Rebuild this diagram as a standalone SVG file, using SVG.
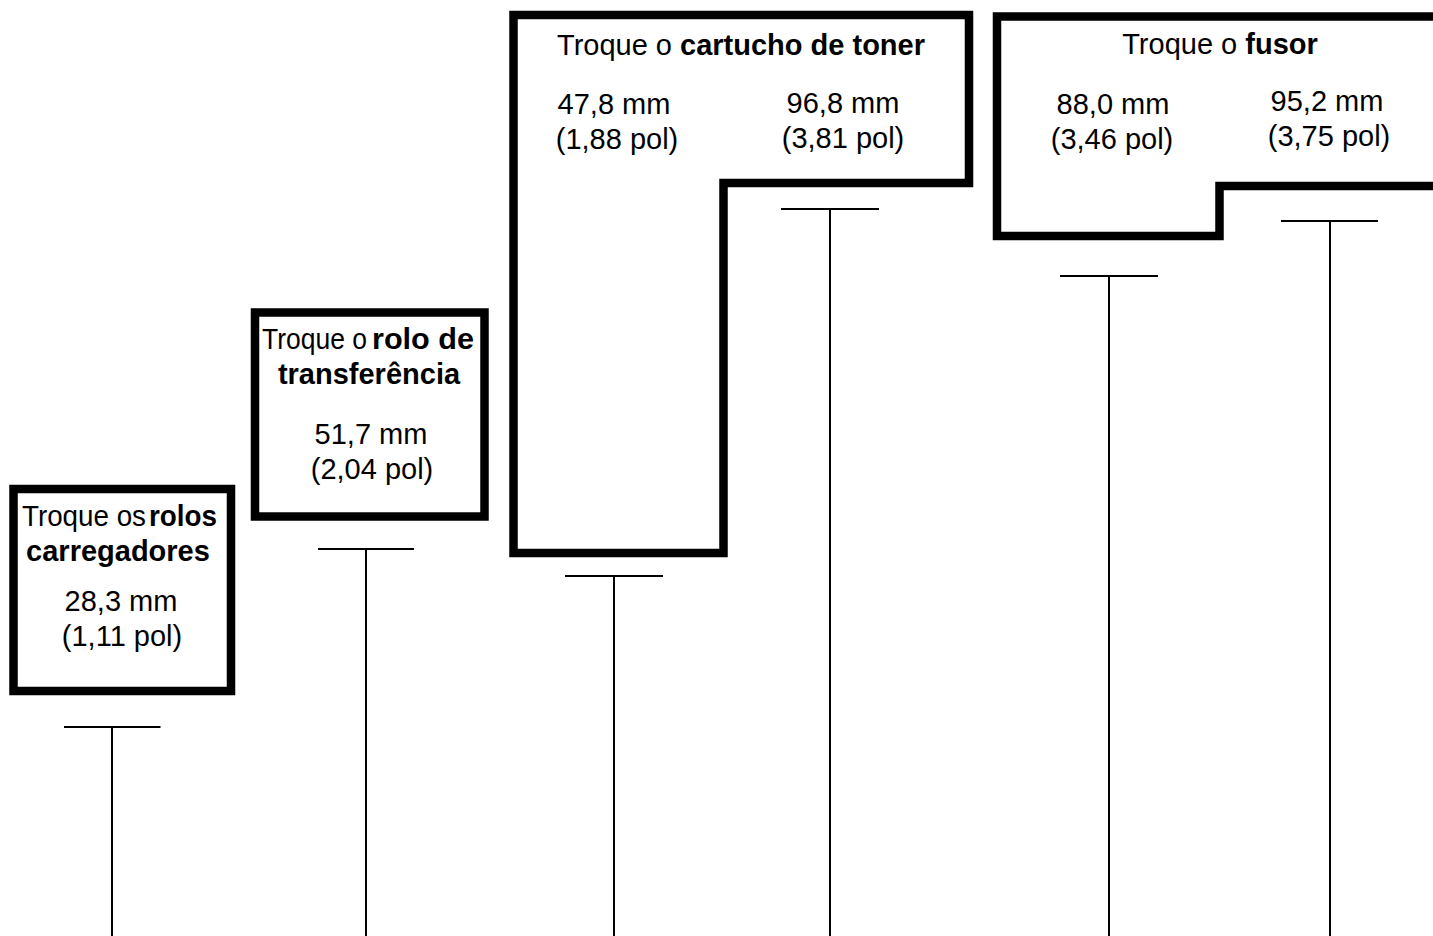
<svg xmlns="http://www.w3.org/2000/svg" width="1433" height="936" viewBox="0 0 1433 936">
<style>
.box{fill:none;stroke:#000;stroke-width:8.5;stroke-linejoin:miter}
.t{font-family:"Liberation Sans",Arial,sans-serif;font-size:29px;fill:#000;text-anchor:middle}
.s{text-anchor:start}
.e{text-anchor:end}
.b{font-weight:bold}
.ln{stroke:#000;stroke-width:2;fill:none}
</style>
<rect width="1433" height="936" fill="#fff"/>
<g id="node-rolos-carregadores">
<rect class="box" x="13.5" y="489" width="217.5" height="202"/>
<text class="t s" x="22" y="526" textLength="124" lengthAdjust="spacingAndGlyphs">Troque os</text>
<text class="t b e" x="217" y="526" textLength="68" lengthAdjust="spacingAndGlyphs">rolos</text>
<text class="t b" x="118" y="561">carregadores</text>
<text class="t" x="121" y="611">28,3 mm</text>
<text class="t" x="122" y="646">(1,11 pol)</text>
</g>
<g id="node-rolo-transferencia">
<rect class="box" x="255" y="312.5" width="229.5" height="204"/>
<text class="t s" x="262" y="349" textLength="105" lengthAdjust="spacingAndGlyphs">Troque o</text>
<text class="t b e" x="474" y="349" textLength="102" lengthAdjust="spacingAndGlyphs">rolo de</text>
<text class="t b" x="369" y="384">transferência</text>
<text class="t" x="371" y="444">51,7 mm</text>
<text class="t" x="372" y="479">(2,04 pol)</text>
</g>
<g id="node-cartucho-toner">
<path class="box" d="M513.5 15 H969 V183 H723.5 V553 H513.5 Z"/>
<text class="t" x="741" y="55">Troque o <tspan class="b">cartucho de toner</tspan></text>
<text class="t" x="614" y="114">47,8 mm</text>
<text class="t" x="617" y="149">(1,88 pol)</text>
<text class="t" x="843" y="113">96,8 mm</text>
<text class="t" x="843" y="148">(3,81 pol)</text>
</g>
<g id="node-fusor">
<path class="box" d="M1445 16.5 H997 V236 H1219.5 V186 H1445"/>
<text class="t" x="1220" y="54">Troque o <tspan class="b">fusor</tspan></text>
<text class="t" x="1113" y="114">88,0 mm</text>
<text class="t" x="1112" y="149">(3,46 pol)</text>
<text class="t" x="1327" y="111">95,2 mm</text>
<text class="t" x="1329" y="146">(3,75 pol)</text>
</g>
<g id="connectors">
<path class="ln" d="M64 727 H160.5 M112 727 V936"/>
<path class="ln" d="M318 549 H414 M366 549 V936"/>
<path class="ln" d="M565 576 H663 M614 576 V936"/>
<path class="ln" d="M781 209 H879 M830 209 V936"/>
<path class="ln" d="M1060 276 H1158 M1109 276 V936"/>
<path class="ln" d="M1281 221 H1378 M1330 221 V936"/>
</g>
</svg>
